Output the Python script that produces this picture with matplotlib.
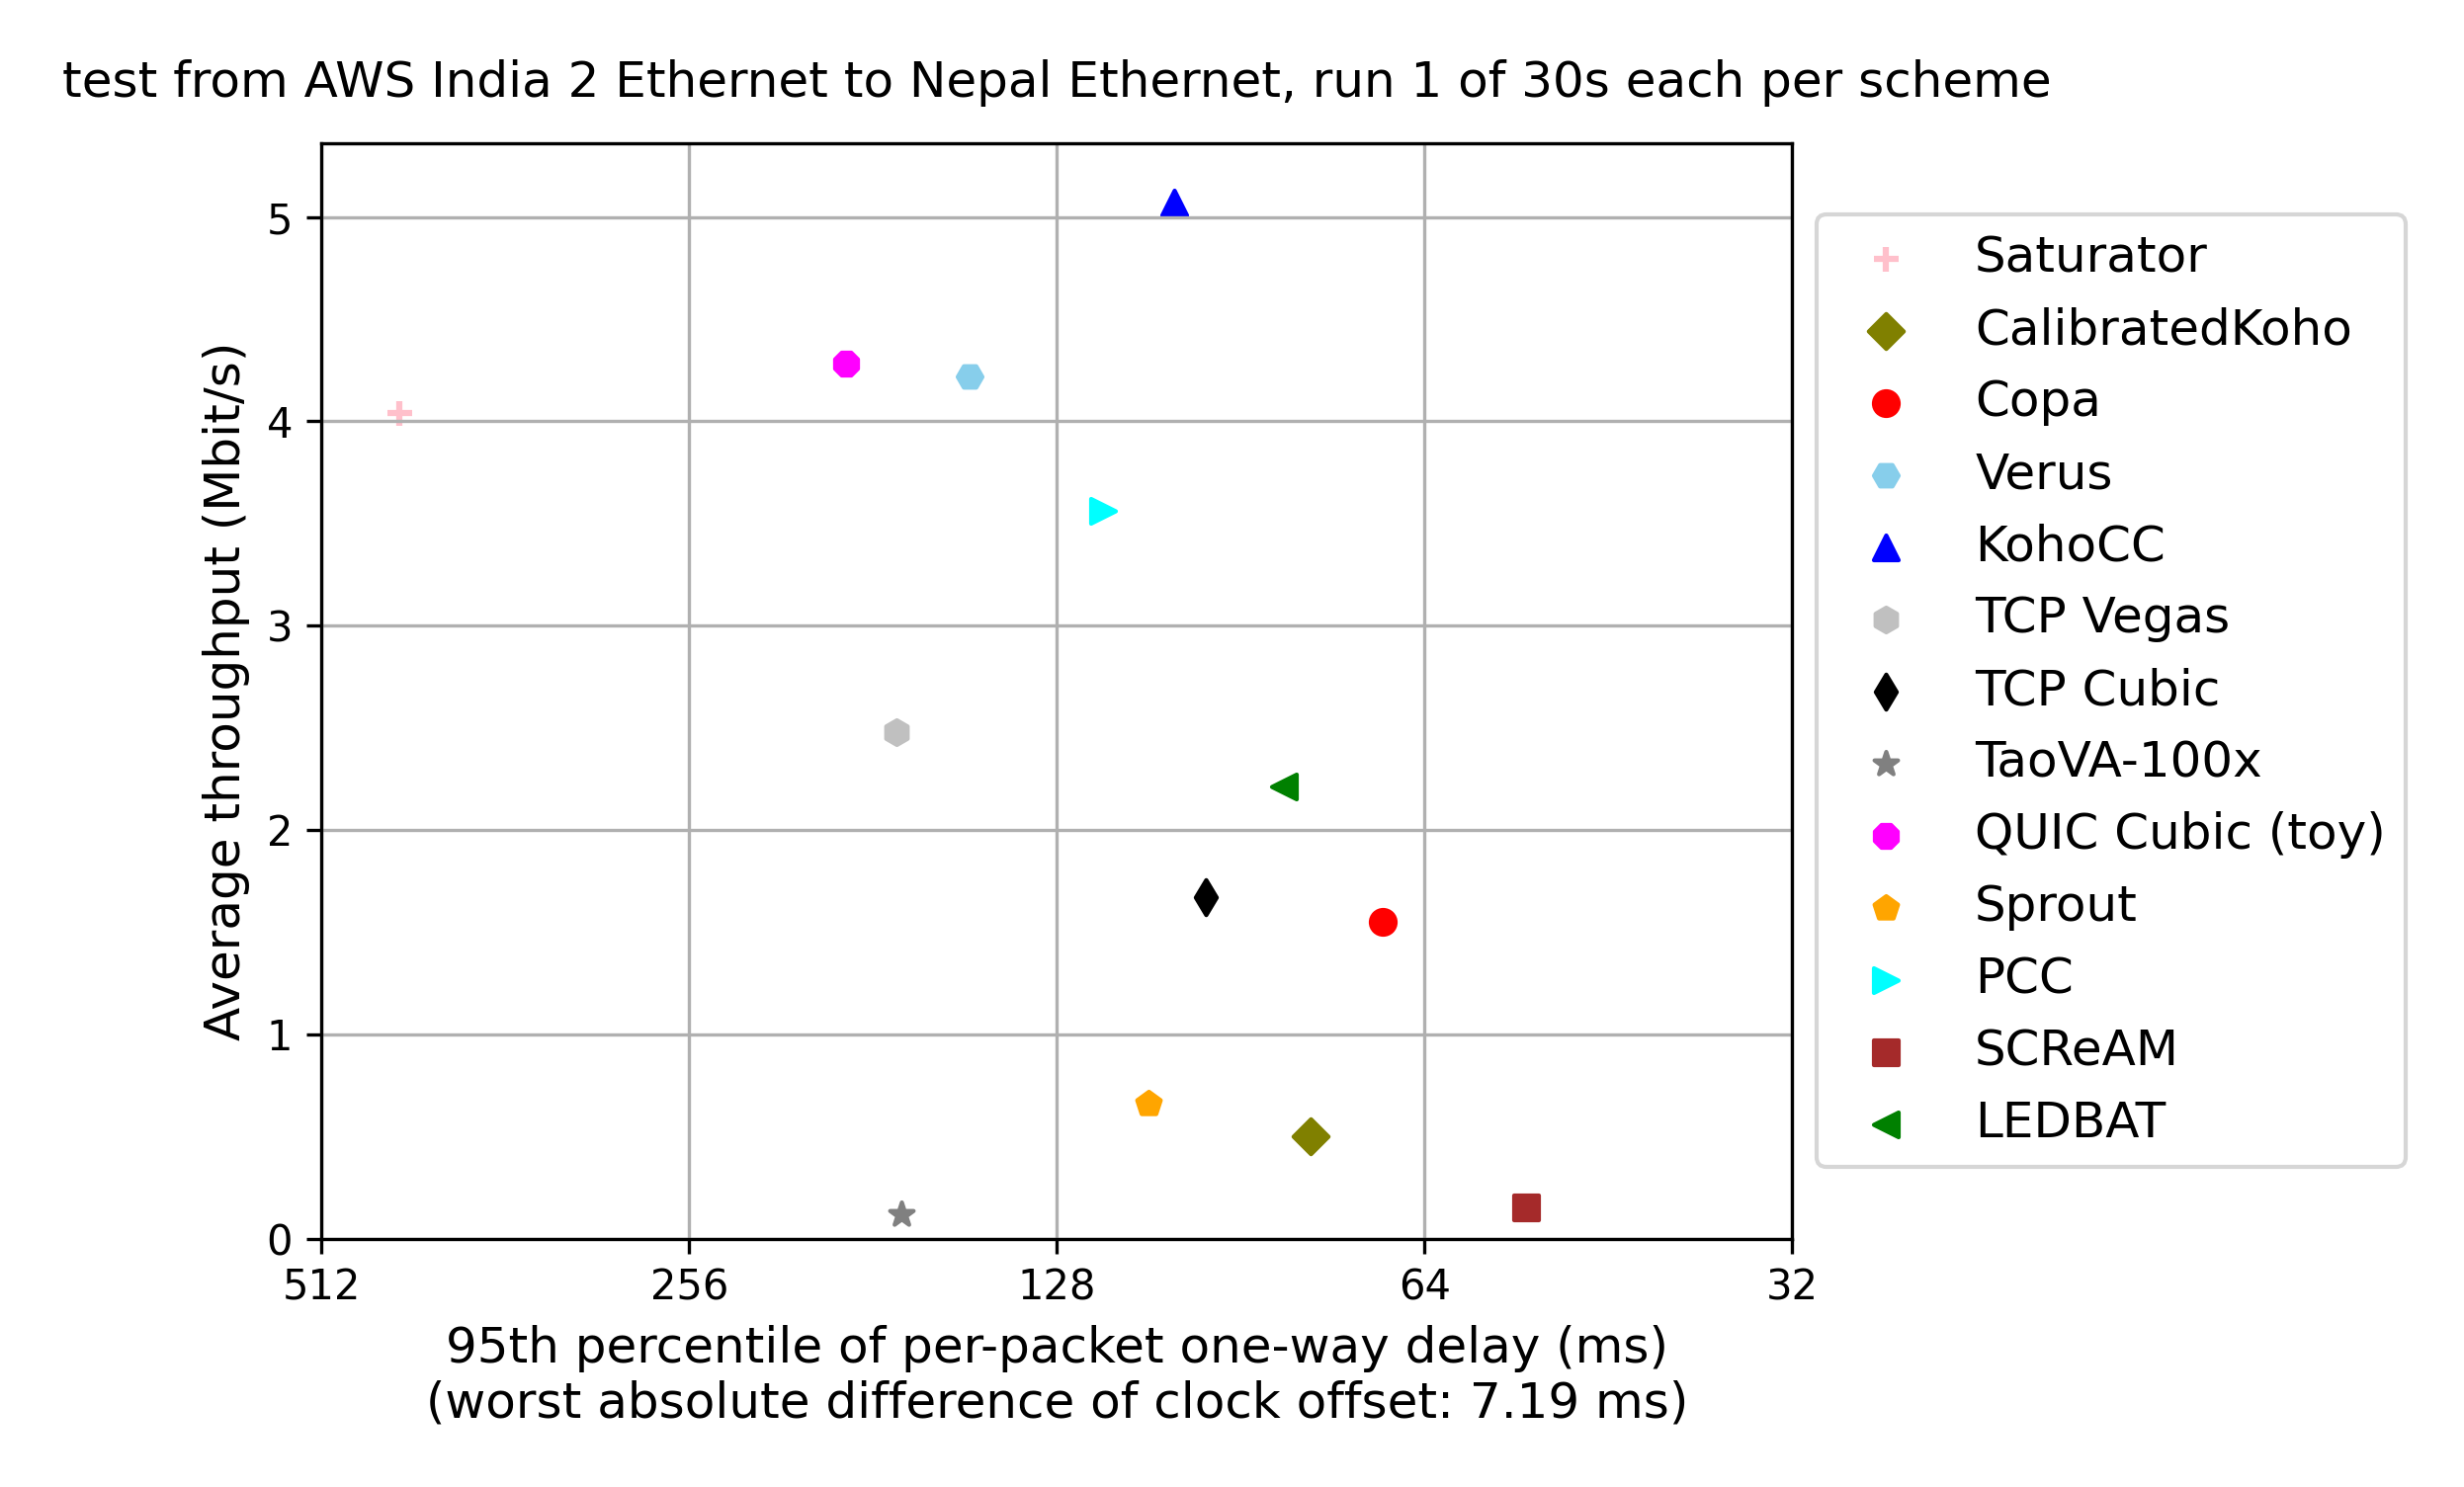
import matplotlib
matplotlib.use('Agg')
import matplotlib.pyplot as plt
from matplotlib.ticker import ScalarFormatter, FixedLocator, NullLocator

schemes = ['Saturator', 'CalibratedKoho', 'Copa', 'Verus', 'KohoCC', 'TCP Vegas',
           'TCP Cubic', 'TaoVA-100x', 'QUIC Cubic (toy)', 'Sprout', 'PCC', 'SCReAM', 'LEDBAT']
delay = [442.3, 79.4, 69.3, 150.9, 102.5, 173.1, 96.6, 171.6, 190.4, 107.7, 117.3, 52.8, 83.4]
tput = [4.04, 0.50, 1.55, 4.22, 5.07, 2.48, 1.67, 0.12, 4.28, 0.66, 3.56, 0.15, 2.21]
colors = ['pink', 'olive', 'red', 'skyblue', 'blue', 'silver', 'black', 'grey',
          'magenta', 'orange', 'cyan', 'brown', 'green']
markers = ['+', 'D', 'o', 'H', '^', 'h', 'd', '*', '8', 'p', '>', 's', '<']

xticks = [512, 256, 128, 64, 32]

fig = plt.figure(figsize=(2493 / 300, 1505 / 300), dpi=300)
ax = fig.add_axes([0.1305, 0.1671, 0.5968, 0.7365])

for name, x, y, c, m in zip(schemes, delay, tput, colors, markers):
    ax.scatter(x, y, color=c, marker=m, label=name)

ax.set_xscale('log', base=2)
ax.xaxis.set_major_locator(FixedLocator(xticks))
ax.xaxis.set_minor_locator(NullLocator())
ax.xaxis.set_major_formatter(ScalarFormatter())
ax.set_xlim(512, 32)
ax.set_ylim(0, 5.36)

ax.set_xlabel('95th percentile of per-packet one-way delay (ms)\n'
              '(worst absolute difference of clock offset: 7.19 ms)', fontsize=12)
ax.set_ylabel('Average throughput (Mbit/s)', fontsize=12)
ax.grid()
ax.set_title('test from AWS India 2 Ethernet to Nepal Ethernet, run 1 of 30s each per scheme',
             y=1.02, fontsize=12)
ax.legend(scatterpoints=1, bbox_to_anchor=(1, 0.5), loc='center left', fontsize=12)

fig.savefig('out.png', dpi=300)
